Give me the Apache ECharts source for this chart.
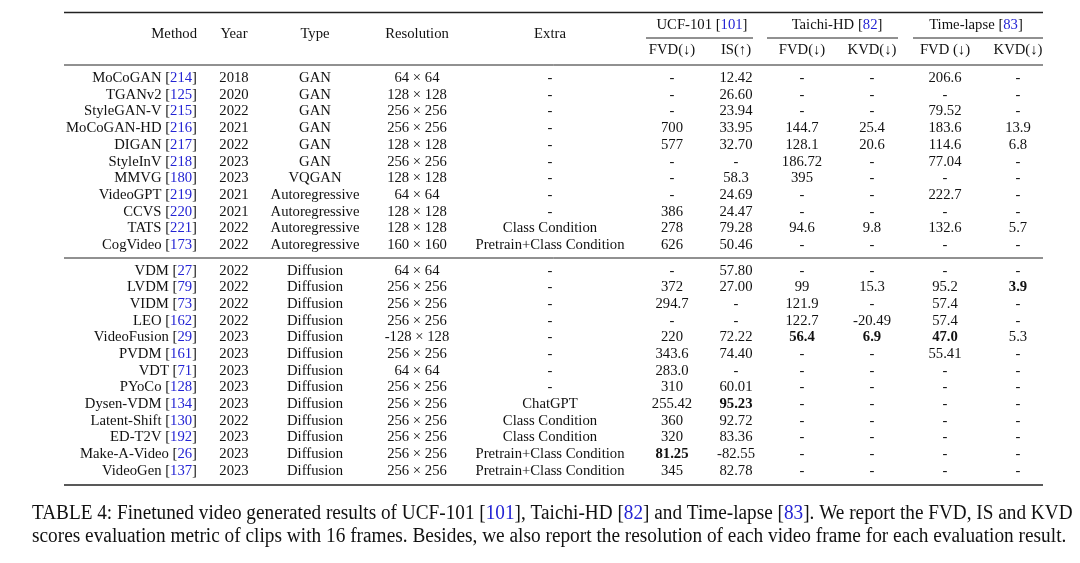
<!DOCTYPE html>
<html><head><meta charset="utf-8">
<script src="https://cdn.jsdelivr.net/npm/echarts@6/dist/echarts.min.js"></script>
<style>html,body{margin:0;padding:0;background:#fff}#c{width:1080px;height:563px}</style>
</head><body><div id="c"></div>
<script>
// ---------- data ----------
const methods = ['MoCoGAN','TGANv2','StyleGAN-V','MoCoGAN-HD','DIGAN','StyleInV','MMVG','VideoGPT','CCVS','TATS','CogVideo',
  'VDM','LVDM','VIDM','LEO','VideoFusion','PVDM','VDT','PYoCo','Dysen-VDM','Latent-Shift','ED-T2V','Make-A-Video','VideoGen'];
const refs = ['214','125','215','216','217','218','180','219','220','221','173',
  '27','79','73','162','29','161','71','128','134','130','192','26','137'];
const years = ['2018','2020','2022','2021','2022','2023','2023','2021','2021','2022','2022',
  '2022','2022','2022','2022','2023','2023','2023','2023','2023','2022','2023','2023','2023'];
const types = ['GAN','GAN','GAN','GAN','GAN','GAN','VQGAN','Autoregressive','Autoregressive','Autoregressive','Autoregressive',
  'Diffusion','Diffusion','Diffusion','Diffusion','Diffusion','Diffusion','Diffusion','Diffusion','Diffusion','Diffusion','Diffusion','Diffusion','Diffusion'];
const resolutions = ['64 × 64','128 × 128','256 × 256','256 × 256','128 × 128','256 × 256','128 × 128','64 × 64','128 × 128','128 × 128','160 × 160',
  '64 × 64','256 × 256','256 × 256','256 × 256','-128 × 128','256 × 256','64 × 64','256 × 256','256 × 256','256 × 256','256 × 256','256 × 256','256 × 256'];
const extras = ['-','-','-','-','-','-','-','-','-','Class Condition','Pretrain+Class Condition',
  '-','-','-','-','-','-','-','-','ChatGPT','Class Condition','Class Condition','Pretrain+Class Condition','Pretrain+Class Condition'];
const ucfFvd = ['-','-','-','700','577','-','-','-','386','278','626',
  '-','372','294.7','-','220','343.6','283.0','310','255.42','360','320','81.25','345'];
const ucfIs = ['12.42','26.60','23.94','33.95','32.70','-','58.3','24.69','24.47','79.28','50.46',
  '57.80','27.00','-','-','72.22','74.40','-','60.01','95.23','92.72','83.36','-82.55','82.78'];
const taichiFvd = ['-','-','-','144.7','128.1','186.72','395','-','-','94.6','-',
  '-','99','121.9','122.7','56.4','-','-','-','-','-','-','-','-'];
const taichiKvd = ['-','-','-','25.4','20.6','-','-','-','-','9.8','-',
  '-','15.3','-','-20.49','6.9','-','-','-','-','-','-','-','-'];
const tlFvd = ['206.6','-','79.52','183.6','114.6','77.04','-','222.7','-','132.6','-',
  '-','95.2','57.4','57.4','47.0','55.41','-','-','-','-','-','-','-'];
const tlKvd = ['-','-','-','13.9','6.8','-','-','-','-','5.7','-',
  '-','3.9','-','-','5.3','-','-','-','-','-','-','-','-'];
// bold cells: [row, column]
const boldCells = [[12,10],[15,7],[15,8],[15,9],[19,6],[22,5]];

const headerCols = ['Method','Year','Type','Resolution','Extra'];
const groupHeaders = ['UCF-101','Taichi-HD','Time-lapse'];
const groupRefs = ['101','82','83'];
const subHeaders = ['FVD(↓)','IS(↑)','FVD(↓)','KVD(↓)','FVD (↓)','KVD(↓)'];
const captionLine1 = 'TABLE 4: Finetuned video generated results of UCF-101 [{r|101}], Taichi-HD [{r|82}] and Time-lapse [{r|83}]. We report the FVD, IS and KVD';
const captionLine2 = 'scores evaluation metric of clips with 16 frames. Besides, we also report the resolution of each video frame for each evaluation result.';

// ---------- layout ----------
const COL_X = [197, 234, 315, 417, 550, 672, 736, 802, 872, 945, 1018];
const GROUP_X = [702, 837, 976];
const BLOCK1 = 11;
function rowY(r){ return r < BLOCK1 ? 78.3 + 16.67*r : 270.7 + 16.67*(r-BLOCK1); }
const FONT = '14.7px "Liberation Serif", "DejaVu Serif", serif';
const BFONT = 'bold 14.7px "Liberation Serif", "DejaVu Serif", serif';
const CFONT = '20px "Liberation Serif", "DejaVu Serif", serif';
const INK = '#111';
const BLUE = '#2323d4';
const RULES = [[64,1043,12.5,1.6],[646,753,38,1],[767,898,38,1],[913,1043,38,1],[64,1043,65,1],[64,1043,258,1],[64,1043,485,1.6]];

const columns = [null, years, types, resolutions, extras, ucfFvd, ucfIs, taichiFvd, taichiKvd, tlFvd, tlKvd];
const boldSet = new Set(boldCells.map(b => b[0] + '_' + b[1]));

const cellData = [];
for (let r = 0; r < methods.length; r++) for (let c = 0; c < COL_X.length; c++) cellData.push([c, r]);

const headerData = [];
headerCols.forEach((t, i) => headerData.push([i, 0]));
groupHeaders.forEach((t, i) => headerData.push([i, 1]));
subHeaders.forEach((t, i) => headerData.push([i, 2]));

const rich = { r: { fill: BLUE, font: FONT } };

const chart = echarts.init(document.getElementById('c'), null, {renderer: 'canvas'});
chart.setOption({
  animation: false,
  backgroundColor: '#fff',
  grid: {left: 0, right: 0, top: 0, bottom: 0},
  xAxis: {type: 'value', min: 0, max: 1080, show: false},
  yAxis: {type: 'value', min: 0, max: 563, inverse: true, show: false},
  series: [
    {
      type: 'custom', data: RULES, silent: true,
      renderItem: function (params, api) {
        const p1 = api.coord([api.value(0), api.value(2)]);
        const p2 = api.coord([api.value(1), api.value(2)]);
        return {type: 'line', shape: {x1: p1[0], y1: p1[1], x2: p2[0], y2: p2[1]},
          style: {stroke: '#222', lineWidth: api.value(3)}};
      }
    },
    {
      type: 'custom', data: headerData, silent: true,
      renderItem: function (params, api) {
        const i = api.value(0), kind = api.value(1);
        let text, x, y, align = 'center';
        if (kind === 0) { text = headerCols[i]; x = COL_X[i]; y = 34; if (i === 0) align = 'right'; }
        else if (kind === 1) { text = groupHeaders[i] + ' [{r|' + groupRefs[i] + '}]'; x = GROUP_X[i]; y = 25; }
        else { text = subHeaders[i]; x = COL_X[5 + i]; y = 50; }
        const p = api.coord([x, y]);
        return {type: 'text', style: {text: text, x: p[0], y: p[1], align: align, verticalAlign: 'middle',
          font: FONT, fill: INK, rich: rich}};
      }
    },
    {
      type: 'custom', data: cellData, silent: true,
      renderItem: function (params, api) {
        const c = api.value(0), r = api.value(1);
        const text = c === 0 ? methods[r] + ' [{r|' + refs[r] + '}]' : columns[c][r];
        const p = api.coord([COL_X[c], rowY(r)]);
        return {type: 'text', style: {text: text, x: p[0], y: p[1], align: c === 0 ? 'right' : 'center',
          verticalAlign: 'middle', font: boldSet.has(r + '_' + c) ? BFONT : FONT, fill: INK, rich: rich}};
      }
    }
  ],
  graphic: [
    {type: 'text', x: 32, y: 513.5, scaleX: 0.962, silent: true, style: {
      text: captionLine1, font: CFONT, fill: INK, align: 'left', verticalAlign: 'middle',
      rich: {r: {fill: BLUE, font: CFONT}}}},
    {type: 'text', x: 32, y: 536.5, scaleX: 0.966, silent: true, style: {
      text: captionLine2, font: CFONT, fill: INK, align: 'left', verticalAlign: 'middle'}}
  ]
});
</script></body></html>
